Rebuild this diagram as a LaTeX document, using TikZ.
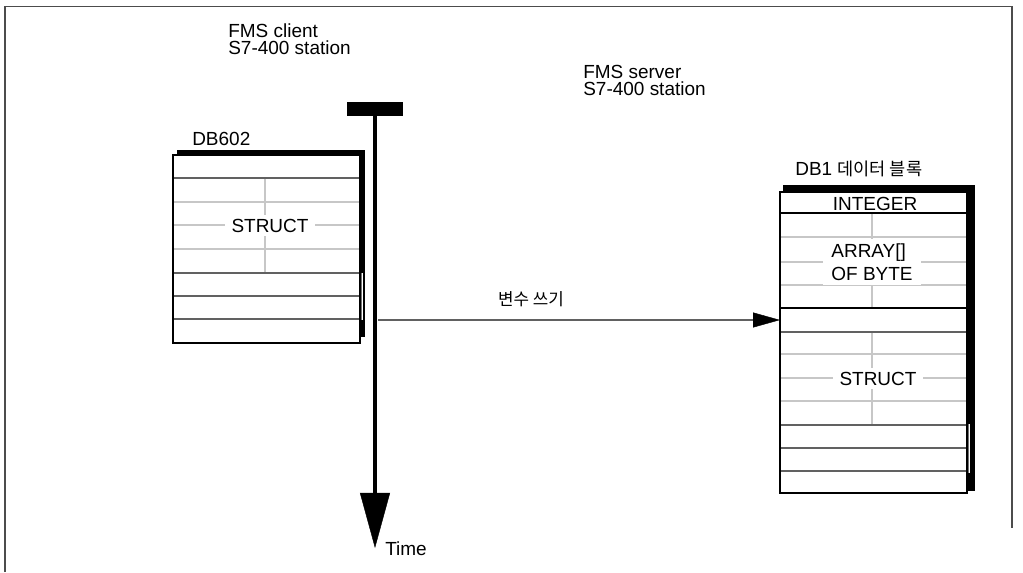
\documentclass[tikz,border=0pt]{standalone}
\usepackage{fontspec}
\setmainfont{Liberation Sans}
\newfontfamily\krfont{Noto Sans CJK KR}
\usetikzlibrary{arrows.meta, positioning, calc}

\begin{document}
\begin{tikzpicture}[
        x=0.025cm, y=-0.025cm,
        txt/.style={font=\fontsize{13.5}{12}\selectfont, inner sep=0pt, anchor=base west, align=left},
        cell/.style={font=\fontsize{13.5}{16.4}\selectfont, fill=white, inner xsep=4.5pt, inner ysep=2.5pt, align=left},
        kr/.style={font=\krfont\fontsize{12}{14}\selectfont, inner sep=0pt},
        shade/.style={fill=black},
        border/.style={draw=black, line width=2.1pt},
        rowline/.style={draw=black!62, line width=1.4pt},
        fineline/.style={draw=black!22, line width=1pt},
        keyline/.style={draw=black, line width=1.5pt},
        frameline/.style={draw=black!70, line width=1.3pt},
        timeline/.style={line width=3.5pt, -{Triangle[width=0.75cm, length=1.375cm, line width=0.3pt]}},
        writearrow/.style={draw=black!62, line width=1pt, -{Triangle[width=0.375cm, length=0.675cm, line width=0.3pt, color=black]}}
    ]
        \useasboundingbox (0,0) rectangle (1023,572);
        \draw[frameline] (5,572) -- (5,6.5) -- (1012,6.5) -- (1012,528);

        % station titles
        \node[txt] (client) at (228,54.3) {FMS client\\S7-400 station};
        \node[txt] (server) at (583,95) {FMS server\\S7-400 station};

        % DB602 on the client
        \node[txt] (db602) at (192,145) {DB602};
        \fill[shade] (177,150) rectangle (365,337);
        \fill[white] (173,155) rectangle (360,343);
        \foreach \y in {202,225,249} \draw[fineline] (173,\y) -- (360,\y);
        \draw[fineline] (265,178) -- (265,273);
        \foreach \y in {178,273,296,319} \draw[rowline] (173,\y) -- (360,\y);
        \fill[white] (360,273) rectangle (362.5,320);
        \draw[black!55, line width=0.8pt] (361.5,273) -- (361.5,320);
        \node[cell] (cstruct) at (270,225.5) {STRUCT};
        \draw[border] (173,155) rectangle (360,343);

        % DB1 on the server
        \node[txt, font=\fontsize{13.5}{16}\selectfont] (db1) at (795,175) {DB1 {\krfont\fontsize{12.5}{14}\selectfont 데이터 블록}};
        \fill[shade] (783,185) rectangle (975,491);
        \fill[white] (780,192) rectangle (967,493);
        \foreach \y in {237,262,285,354,378,401} \draw[fineline] (780,\y) -- (967,\y);
        \draw[fineline] (872,213) -- (872,308);
        \draw[fineline] (872,332) -- (872,425);
        \foreach \y in {332,425,448,471} \draw[rowline] (780,\y) -- (967,\y);
        \foreach \y in {213,308} \draw[keyline] (780,\y) -- (967,\y);
        \fill[white] (967,424) rectangle (969.5,473);
        \draw[black!55, line width=0.8pt] (968.5,424) -- (968.5,473);
        \node[font=\fontsize{13.5}{16}\selectfont, inner sep=0pt] (integer) at (875,203.5) {INTEGER};
        \node[cell, inner xsep=6pt, inner ysep=3.5pt] (array) at (872,262) {ARRAY[]\\OF BYTE};
        \node[cell] (sstruct) at (878,378.5) {STRUCT};
        \draw[border] (780,192) rectangle (967,493);

        % time axis
        \node[fill=black, minimum width=1.4cm, minimum height=0.35cm, inner sep=0pt] (bar) at (375,109) {};
        \coordinate (tend) at (375,548);
        \draw[timeline] (bar.south) -- (tend);
        \node[txt] (time) at (385,555) {Time};

        % write variable
        \coordinate (wstart) at (378,320);
        \coordinate (db1in) at (780,320);
        \draw[writearrow] (wstart) -- (db1in);
        \node[kr] (wlabel) at (531,299) {변수 쓰기};
    \end{tikzpicture}
\end{document}
